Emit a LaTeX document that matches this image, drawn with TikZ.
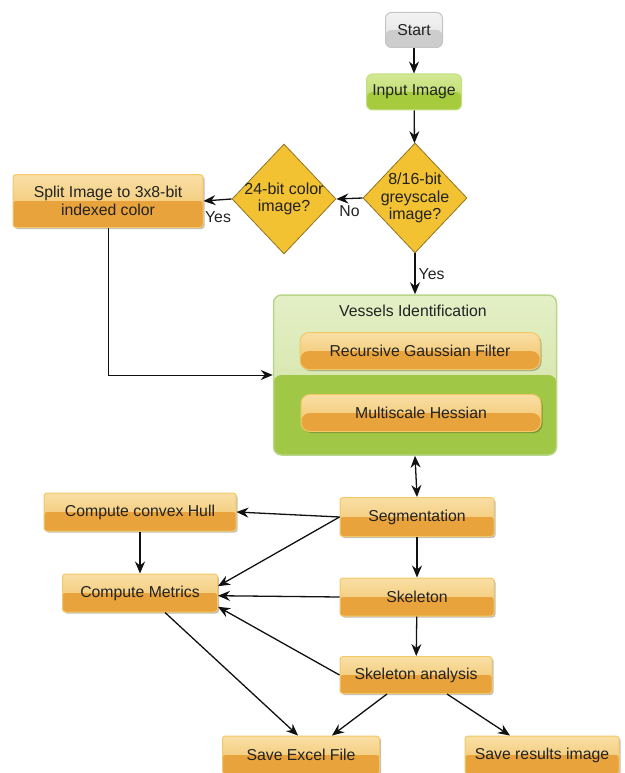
\documentclass[tikz,border=0pt]{standalone}
\usepackage{fontspec}
\setmainfont{Liberation Sans}
\usetikzlibrary{arrows.meta,shapes.geometric,shadows}
\definecolor{orglight}{HTML}{F9DFA6}
\definecolor{orgmid}{HTML}{F0C060}
\definecolor{orgdark}{HTML}{E8A33C}
\definecolor{orgline}{HTML}{F3C866}
\definecolor{grnlight}{HTML}{D2E893}
\definecolor{grnmid}{HTML}{B9D95F}
\definecolor{grndark}{HTML}{A6CC3E}
\definecolor{grnline}{HTML}{C4DF88}
\definecolor{vslight}{HTML}{E4EFC6}
\definecolor{vsmid}{HTML}{CFE29F}
\definecolor{vsdark}{HTML}{A0C745}
\definecolor{vsline}{HTML}{B8D78C}
\definecolor{grylight}{HTML}{F2F2F2}
\definecolor{grymid}{HTML}{E2E2E2}
\definecolor{grydark}{HTML}{CDCDCD}
\definecolor{gryline}{HTML}{C4C4C4}
\definecolor{decfill}{HTML}{F2C232}
\definecolor{decline}{HTML}{8F7424}
\definecolor{txt}{HTML}{222222}
\definecolor{arrcol}{HTML}{111111}
\tikzset{
  twotone/.style n args = {3}{top color=#1, bottom color=#2,
    path picture={\fill[#3] (path picture bounding box.west)
      rectangle (path picture bounding box.south east);}},
  box/.style = {rectangle, rounded corners=3pt, align=center, inner sep=0pt,
    text=txt, font=\fontsize{15.8}{18}\selectfont},
  proc/.style = {box, twotone={orglight}{orgmid}{orgdark}, draw=orgline,
    line width=1pt, drop shadow={shadow xshift=1.5pt, shadow yshift=-1.5pt,
    opacity=0.25, fill=black}},% orange process box
  startbox/.style = {box, rounded corners=6pt, twotone={grylight}{grymid}{grydark},
    draw=gryline, line width=1pt},
  inbox/.style = {box, rounded corners=6pt, twotone={grnlight}{grnmid}{grndark},
    draw=grnline, line width=1pt},
  groupbox/.style = {box, rounded corners=8pt, twotone={vslight}{vsmid}{vsdark},
    draw=vsline, line width=1.5pt},
  decision/.style = {diamond, draw=decline, fill=decfill, line width=0.8pt,
    minimum width=104pt, minimum height=110pt, inner sep=0pt},
  decl/.style = {align=center, inner sep=0pt, text=txt,
    font=\fontsize{16}{17.5}\selectfont},
  lbl/.style = {text=txt, inner sep=0pt, font=\fontsize{15.8}{18}\selectfont},
  flow/.style = {draw=arrcol, line width=1.3pt,
    >={Stealth[length=12pt,width=10pt,inset=4pt]}, ->}
}
\begin{document}
\begin{tikzpicture}[x=1pt, y=-1pt]
\useasboundingbox (0,0) rectangle (624,773);

% top of the flow
\node [startbox, minimum width=57pt, minimum height=35pt] (start) at (414,30) {Start};
\node [inbox, minimum width=95pt, minimum height=36pt] (input) at (414,92) {Input Image};
\node [decision, label={[decl]center:8/16-bit\\greyscale\\image?}] (grey) at (415,198) {};
\node [decision, label={[decl]center:24-bit color\\image?}] (color) at (284,199) {};
\node [proc, minimum width=190pt, minimum height=53pt] (split) at (108,201)
  {Split Image to 3x8-bit\\indexed color};

% vessels identification group
\node [groupbox, minimum width=283pt, minimum height=160pt] (vessels) at (415,375) {};
\node [lbl] (vtitle) at (413,311) {Vessels Identification};
\node [proc, rounded corners=9pt, minimum width=240pt, minimum height=37pt] (rgf)
  at (420,351) {Recursive Gaussian Filter};
\node [proc, rounded corners=9pt, minimum width=240pt, minimum height=37pt] (msh)
  at (421,413) {Multiscale Hessian};

% analysis
\node [proc, minimum width=154pt, minimum height=39pt] (seg) at (417,517) {Segmentation};
\node [proc, minimum width=192pt, minimum height=38pt] (hull) at (140,512) {Compute convex Hull};
\node [proc, minimum width=155pt, minimum height=38pt] (metrics) at (140,593) {Compute Metrics};
\node [proc, minimum width=154pt, minimum height=38pt] (skel) at (417,597) {Skeleton};
\node [proc, minimum width=152pt, minimum height=37pt] (ana) at (416,675) {Skeleton analysis};
\node [proc, minimum width=157pt, minimum height=38pt] (excel) at (301,755) {Save Excel File};
\node [proc, minimum width=154pt, minimum height=38pt] (results) at (542,755) {Save results image};

\draw [flow] (start) -- (input);
\draw [flow] (input) -- (grey);
\draw [flow] (grey.west) -- node [lbl, below=6pt] (no) {No} (color.east);
\draw [flow] (color.west) -- (split.east);
\node [lbl] (yes1) at (218,217) {Yes};
\draw [flow] (grey.south) -- node [lbl, right=3pt] (yes2) {Yes} (vessels.north);
\draw [flow, line width=1pt] (split.south) |- (vessels.west);
\draw [flow, <->] (vessels.south) -- (seg.north);
\draw [flow] (seg.west) -- (hull.east);
\draw [flow] (seg.west) -- (metrics.5);
\draw [flow] (skel.west) -- (metrics.-2);
\draw [flow] (ana.west) -- (metrics.-10);
\draw [flow] (hull) -- (metrics);
\draw [flow] (seg) -- (skel);
\draw [flow] (skel) -- (ana);
\draw [flow] ([xshift=25pt]metrics.south) -- ([xshift=-3pt]excel.north);
\draw [flow] ([xshift=-29pt]ana.south) -- ([xshift=31pt]excel.north);
\draw [flow] ([xshift=31pt]ana.south) -- ([xshift=-32pt]results.north);
\end{tikzpicture}
\end{document}
